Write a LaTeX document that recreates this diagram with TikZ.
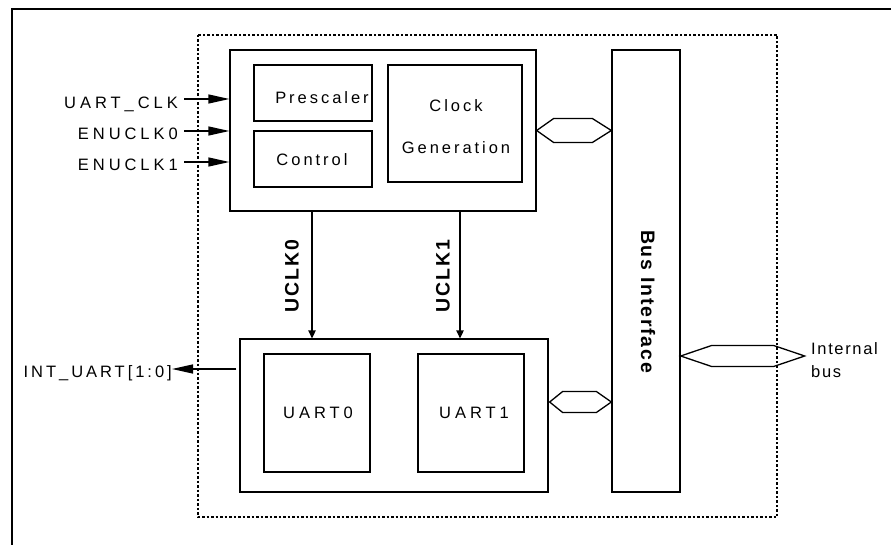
\documentclass[tikz,border=0pt]{standalone}
\usepackage{fontspec}
\setmainfont{Liberation Sans}
\newfontfamily\lsfont[LetterSpace=18]{Liberation Sans}
\newfontfamily\lwfont[LetterSpace=24]{Liberation Sans}
\newfontfamily\lnfont[LetterSpace=10]{Liberation Sans}
\newfontfamily\lbfont[LetterSpace=9]{Liberation Sans}
\usetikzlibrary{arrows.meta,calc}
\begin{document}
\begin{tikzpicture}[x=1pt,y=-1pt,
  box/.style={draw,line width=1.3pt,inner sep=0pt},
  txt/.style={font=\lsfont\fontsize{16.5}{19}\selectfont,inner sep=0pt},
  wtxt/.style={font=\lwfont\fontsize{16.5}{19}\selectfont,inner sep=0pt},
  btxt/.style={font=\lbfont\bfseries\fontsize{19.5}{22}\selectfont,inner sep=0pt},
  bigarrow/.style={-{Triangle[length=21pt,width=9pt]},line width=1.3pt},
  smallarrow/.style={-{Triangle[length=8pt,width=7.5pt]},line width=1.3pt},
  bushex/.style={draw,line width=1.3pt,line join=miter}]
\useasboundingbox (0,0) rectangle (891,545);
% outer frame (only top and left visible)
\draw[line width=2pt] (891,9) -- (12,9) -- (12,545);
% dotted module boundary
\draw[line width=1.3pt,dash pattern=on 2.5pt off 2pt] (198,35) rectangle (777,517);
% blocks
\node[box,minimum width=306pt,minimum height=161pt] (top) at (383,130.5) {};
\node[box,minimum width=118pt,minimum height=56pt] (pre) at (313,93) {};
\node[box,minimum width=118pt,minimum height=56pt] (ctl) at (313,159) {};
\node[box,minimum width=134pt,minimum height=117pt] (clk) at (455,123.5) {};
\node[box,minimum width=68pt,minimum height=442pt] (bus) at (646,271) {};
\node[box,minimum width=308pt,minimum height=153pt] (bot) at (394,415.5) {};
\node[box,minimum width=106pt,minimum height=118pt] (u0) at (317,413) {};
\node[box,minimum width=106pt,minimum height=118pt] (u1) at (471,413) {};
% block texts
\node[txt] (pret) at (322,97.5) {Prescaler};
\node[txt] (ctlt) at (312,160) {Control};
\node[txt] (clkt1) at (456,106) {Clock};
\node[txt] (clkt2) at (456,148) {Generation};
\node[wtxt] (u0t) at (318,413) {UART0};
\node[wtxt] (u1t) at (474,413) {UART1};
\node[btxt,rotate=-90] (bust) at (648,301.5) {Bus Interface};
\node[btxt,rotate=90] (uc0) at (292,276) {UCLK0};
\node[btxt,rotate=90] (uc1) at (443,276) {UCLK1};
% input labels and arrows
\node[wtxt,anchor=base east] (l1) at (178,109) {UART\_CLK};
\node[wtxt,anchor=base east] (l2) at (178,140) {ENUCLK0};
\node[wtxt,anchor=base east] (l3) at (178,171) {ENUCLK1};
\draw[bigarrow] ($(l1.base east)+(6,-10)$) -- ($(top.west |- l1.base east)+(0,-10)$);
\draw[bigarrow] ($(l2.base east)+(6,-9)$) -- ($(top.west |- l2.base east)+(0,-9)$);
\draw[bigarrow] ($(l3.base east)+(6,-9)$) -- ($(top.west |- l3.base east)+(0,-9)$);
% interrupt output
\node[txt,anchor=base east] (intl) at (172,377) {INT\_UART[1:0]};
\draw[bigarrow] ($(bot.west)+(-3,-46.5)$) -- ($(intl.base east)+(0,-8)$);
% clock arrows
\draw[smallarrow] ($(top.south)+(-71,0)$) -- ($(bot.north)+(-82,0)$);
\draw[smallarrow] ($(top.south)+(77,0)$) -- ($(bot.north)+(66,0)$);
% bus connectors
\coordinate (h1a) at (top.east);
\coordinate (h1b) at (bus.west |- top.east);
\draw[bushex] (h1a) -- ($(h1a)+(17,-12)$) -- ($(h1b)+(-19,-12)$) -- (h1b)
  -- ($(h1b)+(-19,12)$) -- ($(h1a)+(17,12)$) -- cycle;
\coordinate (h2a) at ($(bot.east)+(1,-13.5)$);
\coordinate (h2b) at (bus.west |- h2a);
\draw[bushex] (h2a) -- ($(h2a)+(13,-10.5)$) -- ($(h2b)+(-15,-10.5)$) -- (h2b)
  -- ($(h2b)+(-15,10.5)$) -- ($(h2a)+(13,10.5)$) -- cycle;
\coordinate (h3a) at ($(bus.east)+(0,85)$);
\coordinate (h3b) at ($(h3a)+(124,0)$);
\draw[bushex] (h3a) -- ($(h3a)+(31,-10.5)$) -- ($(h3b)+(-31,-10.5)$) -- (h3b)
  -- ($(h3b)+(-31,10.5)$) -- ($(h3a)+(31,10.5)$) -- cycle;
\node[inner sep=0pt,align=left,anchor=west,font=\lnfont\fontsize{16.5}{23}\selectfont] (ibus) at (811,360.6) {Internal\\bus};
\end{tikzpicture}
\end{document}
